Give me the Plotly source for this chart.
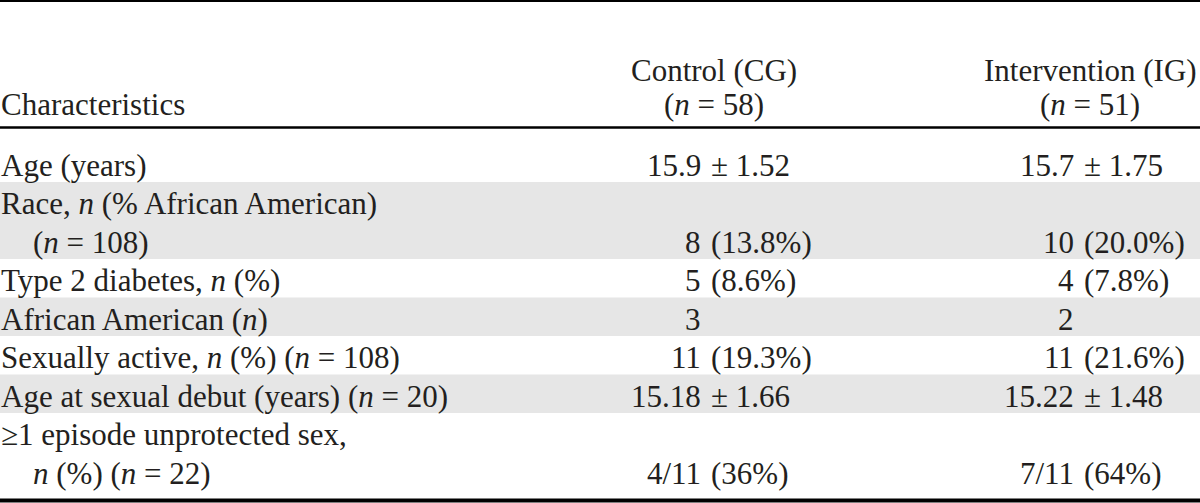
import plotly.graph_objects as go

# table content
header_control = ["Control (CG)", "(<i>n</i> = 58)"]
header_intervention = ["Intervention (IG)", "(<i>n</i> = 51)"]
header_label = "Characteristics"

row_labels = [
    ["Age (years)"],
    ["Race, <i>n</i> (% African American)", "(<i>n</i> = 108)"],
    ["Type 2 diabetes, <i>n</i> (%)"],
    ["African American (<i>n</i>)"],
    ["Sexually active, <i>n</i> (%) (<i>n</i> = 108)"],
    ["Age at sexual debut (years) (<i>n</i> = 20)"],
    ["\u22651 episode unprotected sex,", "<i>n</i> (%) (<i>n</i> = 22)"],
]
control_values = ["15.9 \u00b1 1.52", "8 (13.8%)", "5 (8.6%)", "3", "11 (19.3%)",
                  "15.18 \u00b1 1.66", "4/11 (36%)"]
intervention_values = ["15.7 \u00b1 1.75", "10 (20.0%)", "4 (7.8%)", "2", "11 (21.6%)",
                       "15.22 \u00b1 1.48", "7/11 (64%)"]
shaded = [False, True, False, True, False, True, False]

# geometry (pixels)
W, H = 1200, 503
FIRST_LINE = 165.0
PITCH = 38.5
FONT = dict(family="Liberation Serif", size=31, color="#231f20")
STRIPE = "#e6e6e6"
CTRL_ALIGN = 702
INT_ALIGN = 1075
CTRL_HEAD = 714
INT_HEAD = 1090
INDENT = 32
SPACE = 8


def to_line(p):
    # pixel row -> line index on the y axis
    return (p - FIRST_LINE) / PITCH


fig = go.Figure()
fig.add_trace(go.Scatter(x=[0], y=[0], mode="markers", marker=dict(opacity=0),
                         hoverinfo="skip", showlegend=False))

annotations = []
shapes = []


def text(x, y, s, anchor):
    annotations.append(dict(x=x, y=y, xref="x", yref="y", text=s, showarrow=False,
                            xanchor=anchor, yanchor="middle", font=FONT, borderpad=0))


# rows
line = 0
for label, cv, iv, sh in zip(row_labels, control_values, intervention_values, shaded):
    n = len(label)
    if sh:
        shapes.append(dict(type="rect", xref="x", yref="y", x0=0, x1=W,
                           y0=line - 21.5 / PITCH, y1=line + n - 1 + 17 / PITCH,
                           fillcolor=STRIPE, line=dict(width=0), layer="below"))
    for k, part in enumerate(label):
        text(INDENT if k else 0, line + k, part, "left")
    last = line + n - 1
    for val, ax in ((cv, CTRL_ALIGN), (iv, INT_ALIGN)):
        head, _, rest = val.partition(" ")
        text(ax, last, head, "right")
        if rest:
            text(ax + SPACE, last, rest, "left")
    line += n

# header
text(0, to_line(104), header_label, "left")
for (a, b), cx in ((header_control, CTRL_HEAD), (header_intervention, INT_HEAD)):
    text(cx, to_line(70), a, "center")
    text(cx, to_line(104), b, "center")

# rules
for yp, w in ((1, 2), (127.5, 2.5), (500.5, 4)):
    shapes.append(dict(type="line", xref="x", yref="y", x0=0, x1=W,
                       y0=to_line(yp), y1=to_line(yp), line=dict(color="#000000", width=w)))

fig.update_layout(
    width=W, height=H, margin=dict(l=0, r=0, t=0, b=0),
    paper_bgcolor="white", plot_bgcolor="white",
    xaxis=dict(range=[0, W], visible=False, fixedrange=True),
    yaxis=dict(range=[to_line(H), to_line(0)], visible=False, fixedrange=True),
    annotations=annotations, shapes=shapes, showlegend=False,
)

fig.write_html("out.html", config={"displayModeBar": False},
               post_script="document.body.style.margin='0px';")
